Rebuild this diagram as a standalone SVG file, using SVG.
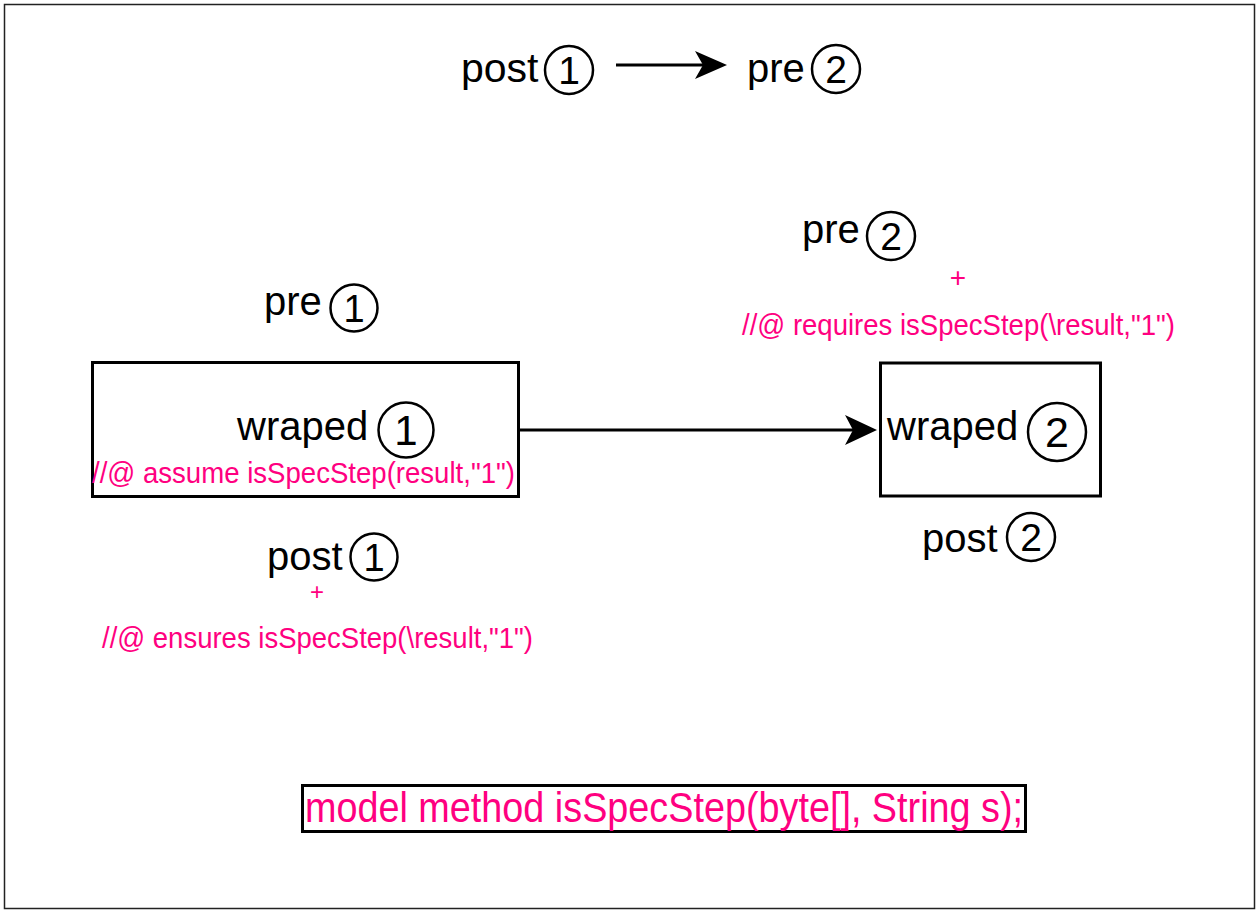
<svg xmlns="http://www.w3.org/2000/svg" width="1257" height="910" viewBox="0 0 1257 910">
  <style>
    .lbl { font-family: "Liberation Sans", Arial, sans-serif; font-size: 40px; fill: #000; }
    .num { font-family: "Liberation Sans", Arial, sans-serif; fill: #000; text-anchor: middle; }
    .spec { font-family: "Liberation Sans", Arial, sans-serif; font-size: 29px; fill: #FF0080; }
    .plus { font-family: "Liberation Sans", Arial, sans-serif; font-size: 28px; fill: #FF0080; text-anchor: middle; }
    .ring { fill: none; stroke: #000; stroke-width: 2.5; }
    .box { fill: #fff; stroke: #000; stroke-width: 3; }
    .edge { fill: none; stroke: #000; stroke-width: 3; }
    .head { fill: #000; stroke: none; }
  </style>

  <!-- page frame -->
  <rect x="0" y="0" width="1257" height="910" fill="#fff"/>
  <rect x="4.5" y="4.5" width="1250" height="904" fill="none" stroke="#222" stroke-width="1.5"/>

  <!-- legend: post 1 -> pre 2 -->
  <g id="legend">
    <text class="lbl" x="461" y="82" style="font-size:41px">post</text>
    <circle class="ring" cx="569" cy="70" r="24"/>
    <text class="num" x="569" y="84" font-size="39">1</text>
    <text class="lbl" x="747" y="82">pre</text>
    <circle class="ring" cx="836" cy="69" r="24"/>
    <text class="num" x="836" y="83" font-size="39">2</text>
  </g>

  <!-- step 1 contract -->
  <g id="pre1">
    <text class="lbl" x="264" y="315">pre</text>
    <circle class="ring" cx="354" cy="308" r="23.5"/>
    <text class="num" x="354" y="322" font-size="38">1</text>
  </g>

  <g id="wraped1">
    <rect class="box" x="92.5" y="362.5" width="426" height="134"/>
    <text class="lbl" x="237" y="440">wraped</text>
    <circle class="ring" cx="406" cy="430" r="27.5"/>
    <text class="num" x="406" y="445" font-size="42">1</text>
    <text class="spec" x="92" y="483" textLength="423" lengthAdjust="spacingAndGlyphs">//@ assume isSpecStep(result,"1")</text>
  </g>

  <g id="post1">
    <text class="lbl" x="267" y="570">post</text>
    <circle class="ring" cx="374" cy="557" r="23.5"/>
    <text class="num" x="374" y="571" font-size="38">1</text>
    <text class="plus" x="317" y="600" style="font-size:24px">+</text>
    <text class="spec" x="102" y="648" textLength="431" lengthAdjust="spacingAndGlyphs">//@ ensures isSpecStep(\result,"1")</text>
  </g>

  <!-- step 2 contract -->
  <g id="pre2">
    <text class="lbl" x="802" y="243">pre</text>
    <circle class="ring" cx="891" cy="236" r="24"/>
    <text class="num" x="891" y="250" font-size="39">2</text>
    <text class="plus" x="958" y="287">+</text>
    <text class="spec" x="742" y="335" textLength="433" lengthAdjust="spacingAndGlyphs">//@ requires isSpecStep(\result,"1")</text>
  </g>

  <g id="wraped2">
    <rect class="box" x="880.5" y="363" width="220" height="133"/>
    <text class="lbl" x="887" y="440">wraped</text>
    <circle class="ring" cx="1057" cy="432" r="29"/>
    <text class="num" x="1057" y="447" font-size="43">2</text>
  </g>

  <g id="post2">
    <text class="lbl" x="922" y="552">post</text>
    <circle class="ring" cx="1031" cy="537" r="24"/>
    <text class="num" x="1031" y="551" font-size="39">2</text>
  </g>

  <!-- model method declaration -->
  <g id="model">
    <rect class="box" x="302.5" y="785.5" width="723" height="46"/>
    <text class="spec" x="305" y="822" style="font-size:42px" textLength="718" lengthAdjust="spacingAndGlyphs">model method isSpecStep(byte[], String s);</text>
  </g>

  <!-- connectors -->
  <g id="connectors">
    <line class="edge" x1="616" y1="65" x2="704" y2="65"/>
    <polygon class="head" points="727,65 695,51 703,65 695,79"/>
    <line class="edge" x1="519" y1="430" x2="854" y2="430"/>
    <polygon class="head" points="877,430 845,415 853,430 845,445"/>
  </g>
</svg>
